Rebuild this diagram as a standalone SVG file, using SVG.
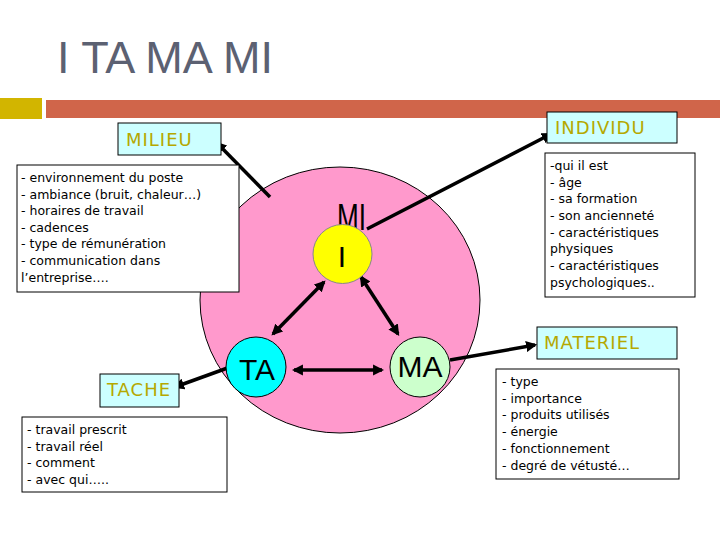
<svg xmlns="http://www.w3.org/2000/svg" width="720" height="540" viewBox="0 0 720 540">
<style>
.lbl{fill:#ccffff;stroke:#000;stroke-width:1}
.lt{font-family:"DejaVu Sans",sans-serif;font-size:18px;letter-spacing:1px;fill:#b5a800}
.box{fill:#fff;stroke:#000;stroke-width:1}
.bt{font-family:"DejaVu Sans",sans-serif;font-size:12.5px;fill:#000}
.ct{font-family:"Liberation Sans",Arial,sans-serif;font-size:30px;fill:#000;text-anchor:middle}
.ln{stroke:#000;stroke-width:3.5;fill:none}
</style>
<defs>
<marker id="ah" viewBox="0 0 10 10" refX="8" refY="5" markerWidth="3.2" markerHeight="3.2" orient="auto-start-reverse">
<path d="M0,0 L10,5 L0,10 z" fill="#000"/>
</marker>
</defs>
<rect width="720" height="540" fill="#fff"/>
<text x="57" y="73" font-family="Liberation Sans,Arial,sans-serif" font-size="45" fill="#5c6172">I TA MA MI</text>
<rect x="0" y="98" width="42" height="21" fill="#d2b500"/>
<rect x="46" y="100" width="674" height="18" fill="#d0654a"/>

<g id="ellipse"><ellipse cx="340" cy="300" rx="140" ry="133" fill="#ff99cc" stroke="#000" stroke-width="1"/></g>

<g id="connectors">
<line class="ln" x1="270" y1="197" x2="217" y2="143" marker-end="url(#ah)"/>
<line class="ln" x1="367" y1="229" x2="551" y2="134" marker-end="url(#ah)"/>
<line class="ln" x1="233" y1="366" x2="175" y2="387" marker-end="url(#ah)"/>
<line class="ln" x1="450" y1="360" x2="535" y2="345" marker-end="url(#ah)"/>
<line class="ln" x1="324" y1="282" x2="273" y2="334" marker-start="url(#ah)" marker-end="url(#ah)"/>
<line class="ln" x1="361" y1="277" x2="398" y2="334" marker-start="url(#ah)" marker-end="url(#ah)"/>
<line class="ln" x1="294" y1="370" x2="382" y2="370" marker-start="url(#ah)" marker-end="url(#ah)"/>
</g>

<g id="mi-label"><text x="337" y="230" font-family="Liberation Sans,Arial,sans-serif" font-size="37" fill="#000" textLength="29" lengthAdjust="spacingAndGlyphs">MI</text></g>
<g id="node-I"><circle cx="342.5" cy="254" r="29.5" fill="#ffff00" stroke="#888" stroke-width="1"/><text x="342" y="267" class="ct" font-size="36">I</text></g>
<g id="node-TA"><circle cx="256" cy="367" r="30" fill="#00ffff" stroke="#000" stroke-width="1"/><text x="257" y="380" class="ct" font-size="36">TA</text></g>
<g id="node-MA"><circle cx="420" cy="367" r="30" fill="#ccffcc" stroke="#000" stroke-width="1"/><text x="420" y="377" class="ct" font-size="28">MA</text></g>

<g id="milieu">
<rect class="lbl" x="118" y="123" width="103" height="32"/>
<text class="lt" x="126" y="146">MILIEU</text>
<rect class="box" x="17" y="165" width="222" height="127"/>
<text class="bt" x="21" y="182">- environnement du poste</text>
<text class="bt" x="21" y="199">- ambiance (bruit,  chaleur…)</text>
<text class="bt" x="21" y="215">- horaires de travail</text>
<text class="bt" x="21" y="232">- cadences</text>
<text class="bt" x="21" y="248">- type de rémunération</text>
<text class="bt" x="21" y="265">- communication dans</text>
<text class="bt" x="21" y="282">l’entreprise….</text>
</g>

<g id="individu">
<rect class="lbl" x="547" y="112" width="130" height="31"/>
<text class="lt" x="555" y="134">INDIVIDU</text>
<rect class="box" x="545" y="153" width="150" height="144"/>
<text class="bt" x="550" y="170">-qui il est</text>
<text class="bt" x="550" y="187">- âge</text>
<text class="bt" x="550" y="203">- sa formation</text>
<text class="bt" x="550" y="220">- son ancienneté</text>
<text class="bt" x="550" y="237">- caractéristiques</text>
<text class="bt" x="550" y="253">physiques</text>
<text class="bt" x="550" y="270">- caractéristiques</text>
<text class="bt" x="550" y="287">psychologiques..</text>
</g>

<g id="materiel">
<rect class="lbl" x="537" y="327" width="140" height="32"/>
<text class="lt" x="544" y="349">MATERIEL</text>
<rect class="box" x="496" y="369" width="183" height="110"/>
<text class="bt" x="502" y="386">- type</text>
<text class="bt" x="502" y="403">- importance</text>
<text class="bt" x="502" y="419">- produits utilisés</text>
<text class="bt" x="502" y="436">- énergie</text>
<text class="bt" x="502" y="453">- fonctionnement</text>
<text class="bt" x="502" y="470">- degré de vétusté…</text>
</g>

<g id="tache">
<rect class="lbl" x="100" y="374" width="79" height="33"/>
<text class="lt" x="107" y="396">TACHE</text>
<rect class="box" x="22" y="417" width="205" height="75"/>
<text class="bt" x="27" y="434">- travail prescrit</text>
<text class="bt" x="27" y="451">- travail réel</text>
<text class="bt" x="27" y="467">- comment</text>
<text class="bt" x="27" y="484">- avec qui…..</text>
</g>
</svg>
